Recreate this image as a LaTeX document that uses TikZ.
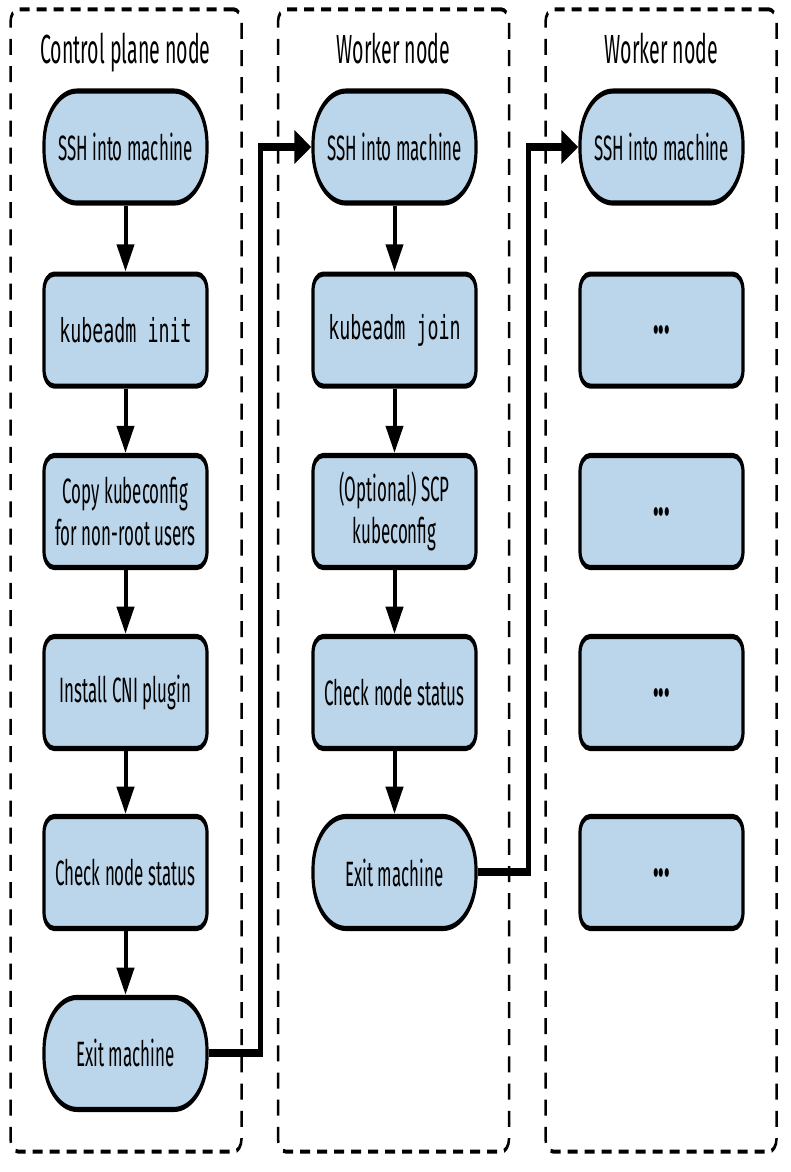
\documentclass[tikz,border=0pt]{standalone}
\usepackage{fontspec}
\setmainfont{Fira Sans}[FakeStretch=0.77]
\newfontfamily\codefont{DejaVu Sans Mono}[FakeStretch=0.89]
\usetikzlibrary{arrows.meta}
\definecolor{boxblue}{RGB}{187,213,234}
\begin{document}
\begin{tikzpicture}[x=1pt,y=-1pt,
  box/.style={draw, line width=3.2pt, fill=boxblue, rounded corners=10pt,
    minimum width=163pt, minimum height=70pt, align=center, inner sep=0pt,
    font=\fontsize{22}{26}\selectfont},
  term/.style={box, rounded corners=33pt},
  code/.style={font=\codefont\fontsize{20.6}{24}\selectfont},
  dots/.style={font=\bfseries\fontsize{30}{30}\selectfont},
  panel/.style={draw, line width=2.5pt, dash pattern=on 10pt off 7pt,
    rounded corners=8pt, minimum width=231pt, minimum height=714pt, inner sep=0pt},
  title/.style={anchor=base, font=\fontsize{25.4}{30}\selectfont, inner sep=0pt},
  arr/.style={line width=4pt, -{Triangle[width=17pt,length=17pt]}},
  thickarr/.style={line width=5pt, -{Triangle[width=20pt,length=17pt]}}]
\useasboundingbox (0,0) rectangle (790,1172);
\begin{scope}[transform canvas={yscale=1.6}]
  % panels
  \node[panel] (p1) at (126,362.8) {};
  \node[panel] (p2) at (393.5,362.8) {};
  \node[panel] (p3) at (661,362.8) {};
  % titles
  \node[title] (t1) at (125.5,39.4) {Control plane node};
  \node[title] (t2) at (393.5,39.4) {Worker node};
  \node[title] (t3) at (661.5,39.4) {Worker node};
  % column 1
  \node[term] (a1) at (125.5,91.9) {SSH into machine};
  \node[box,code] (a2) at (125.5,206.3) {kubeadm init};
  \node[box] (a3) at (125.5,319.7) {Copy kubeconfig\\for non-root users};
  \node[box] (a4) at (125.5,432.8) {Install CNI plugin};
  \node[box] (a5) at (125.5,545.3) {Check node status};
  \node[term] (a6) at (125.5,658.4) {Exit machine};
  % column 2
  \node[term] (b1) at (394.5,91.9) {SSH into machine};
  \node[box,code] (b2) at (394.5,206.3) {kubeadm join};
  \node[box] (b3) at (394.5,319.7) {(Optional) SCP\\kubeconfig};
  \node[box] (b4) at (394.5,432.8) {Check node status};
  \node[term] (b5) at (394.5,545.3) {Exit machine};
  % column 3
  \node[term] (c1) at (661.5,91.9) {SSH into machine};
  \node[box,dots] (c2) at (661.5,206.3) {...};
  \node[box,dots] (c3) at (661.5,319.7) {...};
  \node[box,dots] (c4) at (661.5,432.8) {...};
  \node[box,dots] (c5) at (661.5,545.3) {...};
  % arrows
  \draw[arr] (a1) -- (a2);
  \draw[arr] (a2) -- (a3);
  \draw[arr] (a3) -- (a4);
  \draw[arr] (a4) -- (a5);
  \draw[arr] (a5) -- (a6);
  \draw[arr] (b1) -- (b2);
  \draw[arr] (b2) -- (b3);
  \draw[arr] (b3) -- (b4);
  \draw[arr] (b4) -- (b5);
  \coordinate (j1) at (260,91.9);
  \coordinate (j2) at (528,91.9);
  \draw[thickarr] (a6.east) -| (j1) -- (b1.west);
  \draw[thickarr] (b5.east) -| (j2) -- (c1.west);
\end{scope}
\end{tikzpicture}
\end{document}
